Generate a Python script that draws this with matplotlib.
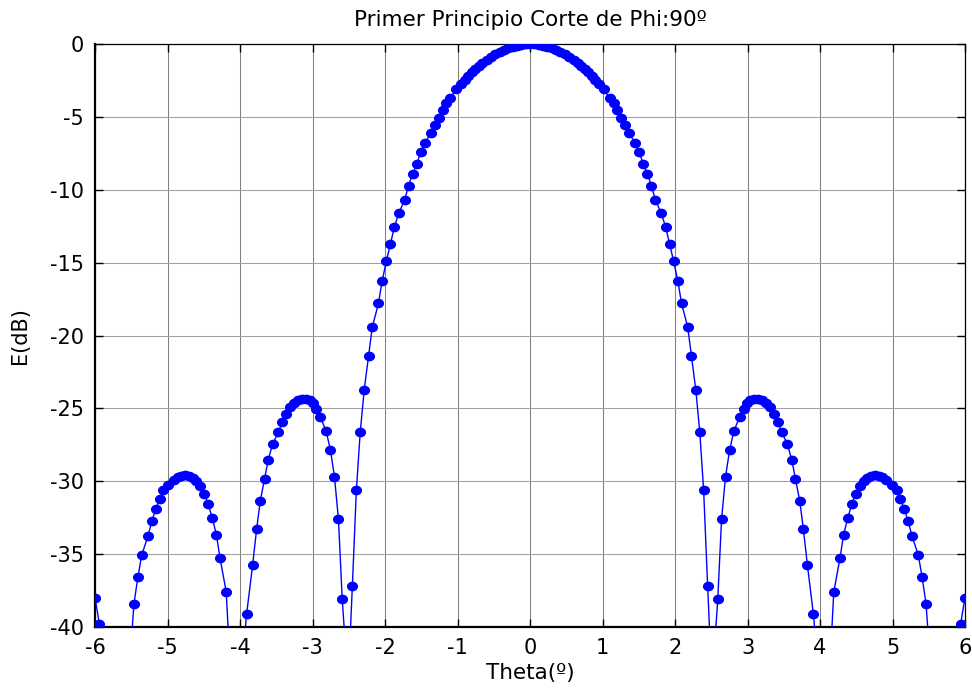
import numpy as np
import matplotlib
matplotlib.use("Agg")
import matplotlib.pyplot as plt
from matplotlib.path import Path

plt.rcParams['font.family'] = ['DejaVu Sans']
plt.rcParams['axes.unicode_minus'] = False

# Cut of the radiation pattern at phi = 90 deg (theta in degrees, field in dB)
theta_deg = [
    -6.00, -5.94, -5.88, -5.82, -5.76, -5.70, -5.64, -5.58, -5.52,
    -5.463, -5.408, -5.356, -5.27, -5.215, -5.162, -5.11, -5.056, -4.995,
    -4.915, -4.86, -4.81, -4.755, -4.70, -4.655, -4.61, -4.551, -4.49,
    -4.44, -4.385, -4.326, -4.275, -4.19,
    -4.15, -4.09, -4.03, -3.97,
    -3.909, -3.826, -3.771, -3.72, -3.66, -3.61, -3.551, -3.472, -3.417,
    -3.366, -3.307, -3.256, -3.206, -3.15, -3.09, -3.037, -2.99, -2.948,
    -2.89, -2.812, -2.754, -2.697, -2.642, -2.59,
    -2.51,
    -2.45, -2.395, -2.342, -2.287, -2.227, -2.176, -2.09, -2.04, -1.98,
    -1.925, -1.87, -1.81, -1.73, -1.675, -1.62, -1.56, -1.51, -1.45,
    -1.37, -1.31, -1.26, -1.20, -1.16, -1.10, -1.02, -0.95, -0.90,
    -0.85, -0.80, -0.76, -0.71, -0.66, -0.60, -0.54, -0.48, -0.42,
    -0.36, -0.30, -0.24, -0.18, -0.12, -0.06,
    0.00,
    0.06, 0.12, 0.18, 0.24, 0.30, 0.36, 0.42, 0.48, 0.54,
    0.60, 0.66, 0.71, 0.76, 0.80, 0.85, 0.90, 0.95, 1.02,
    1.10, 1.16, 1.20, 1.26, 1.31, 1.37, 1.45, 1.51, 1.56,
    1.62, 1.675, 1.73, 1.81, 1.87, 1.925, 1.98, 2.04, 2.09,
    2.176, 2.227, 2.287, 2.342, 2.395, 2.45,
    2.51,
    2.59, 2.642, 2.697, 2.754, 2.812, 2.89, 2.948, 2.99, 3.037,
    3.09, 3.15, 3.206, 3.256, 3.307, 3.366, 3.417, 3.472, 3.551,
    3.61, 3.66, 3.72, 3.771, 3.826, 3.909,
    3.97, 4.03, 4.09, 4.15,
    4.19, 4.275, 4.326, 4.385, 4.44, 4.49, 4.551, 4.61, 4.655,
    4.70, 4.755, 4.81, 4.86, 4.915, 4.995, 5.056, 5.11, 5.162,
    5.215, 5.27, 5.356, 5.408, 5.463,
    5.52, 5.58, 5.64, 5.70, 5.76, 5.82, 5.88, 5.94, 6.00,
]

e_db = [
    -38.00, -39.80, -41.20, -42.50, -44.50, -48.00, -55.00, -50.00, -42.50,
    -38.44, -36.58, -35.08, -33.79, -32.73, -31.94, -31.23, -30.62, -30.25,
    -29.92, -29.72, -29.63, -29.60, -29.67, -29.81, -29.99, -30.32, -30.87,
    -31.56, -32.50, -33.67, -35.30, -37.62,
    -41.50, -46.00, -47.00, -42.50,
    -39.15, -35.76, -33.31, -31.35, -29.83, -28.53, -27.47, -26.65, -25.96,
    -25.39, -24.93, -24.62, -24.43, -24.36, -24.36, -24.43, -24.62, -25.04,
    -25.62, -26.56, -27.84, -29.70, -32.63, -38.10,
    -44.00,
    -37.18, -30.62, -26.65, -23.74, -21.41, -19.44, -17.79, -16.27, -14.87,
    -13.69, -12.53, -11.61, -10.69, -9.71, -8.91, -8.22, -7.42, -6.80,
    -6.11, -5.54, -5.08, -4.51, -4.05, -3.71, -3.09, -2.76, -2.45,
    -2.17, -1.90, -1.70, -1.50, -1.30, -1.07, -0.88, -0.70, -0.54,
    -0.40, -0.27, -0.17, -0.10, -0.04, -0.01,
    0.00,
    -0.01, -0.04, -0.10, -0.17, -0.27, -0.40, -0.54, -0.70, -0.88,
    -1.07, -1.30, -1.50, -1.70, -1.90, -2.17, -2.45, -2.76, -3.09,
    -3.71, -4.05, -4.51, -5.08, -5.54, -6.11, -6.80, -7.42, -8.22,
    -8.91, -9.71, -10.69, -11.61, -12.53, -13.69, -14.87, -16.27, -17.79,
    -19.44, -21.41, -23.74, -26.65, -30.62, -37.18,
    -44.00,
    -38.10, -32.63, -29.70, -27.84, -26.56, -25.62, -25.04, -24.62, -24.43,
    -24.36, -24.36, -24.43, -24.62, -24.93, -25.39, -25.96, -26.65, -27.47,
    -28.53, -29.83, -31.35, -33.31, -35.76, -39.15,
    -42.50, -47.00, -46.00, -41.50,
    -37.62, -35.30, -33.67, -32.50, -31.56, -30.87, -30.32, -29.99, -29.81,
    -29.67, -29.60, -29.63, -29.72, -29.92, -30.25, -30.62, -31.23, -31.94,
    -32.73, -33.79, -35.08, -36.58, -38.44,
    -42.50, -50.00, -55.00, -48.00, -44.50, -42.50, -41.20, -39.80, -38.00,
]

x_ticks = [-6, -5, -4, -3, -2, -1, 0, 1, 2, 3, 4, 5, 6]
y_ticks = [0, -5, -10, -15, -20, -25, -30, -35, -40]

title_text = "Primer Principio Corte de Phi:90º"
x_label = "Theta(º)"
y_label = "E(dB)"

fig = plt.figure(figsize=(9.72, 6.88), dpi=100)
ax = fig.add_axes([95 / 972, 1 - 626.7 / 688, 870 / 972, 582.4 / 688])

# slightly wide elliptical dot marker
circ = Path.unit_circle()
dot = Path(circ.vertices * np.array([1.17, 1.0]), circ.codes)

ax.plot(theta_deg, e_db, color=(0, 0, 1), lw=1.0, marker=dot,
        markersize=7.0, markerfacecolor=(0, 0, 1), markeredgecolor=(0, 0, 1),
        clip_on=True, zorder=3)

ax.set_xlim(-6, 6)
ax.set_ylim(-40, 0)
ax.set_xticks(x_ticks)
ax.set_yticks(y_ticks)
ax.set_xticklabels([str(t) for t in x_ticks])
ax.set_yticklabels([str(t) for t in y_ticks])

ax.grid(True, axis='x', color='#808080', lw=0.75, ls='-')
ax.grid(True, axis='y', color='#a0a0a0', lw=0.75, ls='-')
ax.set_axisbelow(True)

ax.tick_params(direction='in', length=6, width=1.0, top=True, right=True,
               labelsize=15, colors='black')
ax.tick_params(axis='x', pad=8)
ax.tick_params(axis='y', pad=8)
for side in ('left', 'bottom'):
    ax.spines[side].set_linewidth(1.6)
for side in ('top', 'right'):
    ax.spines[side].set_linewidth(0.9)

ax.set_title(title_text, fontsize=15.5, pad=13)
ax.set_xlabel(x_label, fontsize=15.5, labelpad=4)
ax.set_ylabel(y_label, fontsize=15, labelpad=14)

fig.savefig("out.png", dpi=100, facecolor='white')
